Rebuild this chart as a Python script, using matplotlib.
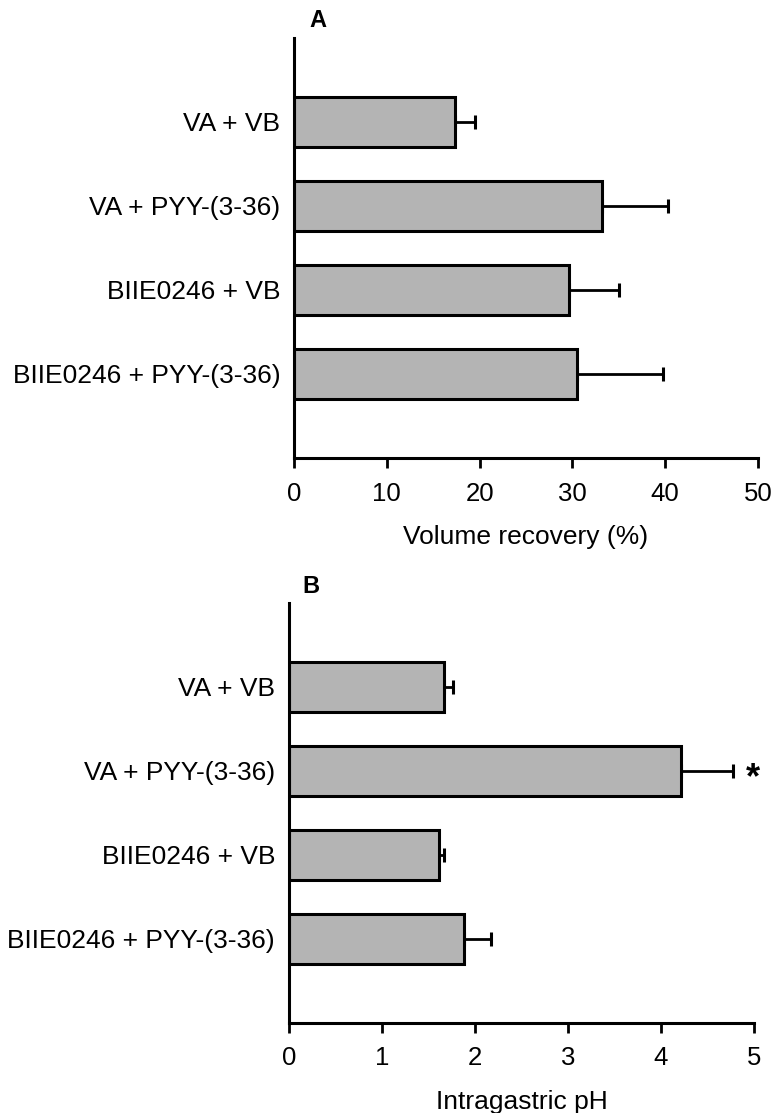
import matplotlib
matplotlib.use("Agg")
import matplotlib.pyplot as plt
import numpy as np

plt.rcParams['font.family'] = ['Liberation Sans', 'DejaVu Sans']

categories = ["VA + VB", "VA + PYY-(3-36)", "BIIE0246 + VB", "BIIE0246 + PYY-(3-36)"]
volume_mean = [17.3, 33.2, 29.6, 30.5]
volume_sem = [2.2, 7.1, 5.4, 9.3]
ph_mean = [1.67, 4.22, 1.61, 1.88]
ph_sem = [0.09, 0.55, 0.06, 0.29]
volume_ticks = [0, 10, 20, 30, 40, 50]
ph_ticks = [0, 1, 2, 3, 4, 5]

fig = plt.figure(figsize=(7.76, 11.13), dpi=100)
axA = fig.add_axes([0.3789, 0.5885, 0.5979, 0.3774])
axB = fig.add_axes([0.3724, 0.0811, 0.5992, 0.3771])

def draw(ax, means, sems, ticks, xlabel, letter, letter_dx, star=None):
    y = np.arange(1, len(categories) + 1)
    ax.barh(y, means, height=0.59, color='#b4b4b4', edgecolor='black', linewidth=2.2, zorder=2)
    ax.errorbar(means, y, xerr=[np.zeros(len(sems)), sems], fmt='none', ecolor='black',
                elinewidth=2.0, capsize=5, capthick=2.2, zorder=1)
    ax.set_ylim(5, 0)
    ax.set_xlim(ticks[0], ticks[-1])
    ax.set_xticks(ticks)
    ax.set_yticks(y)
    ax.set_yticklabels(categories, fontsize=19)
    ax.tick_params(axis='y', length=0, pad=10)
    ax.tick_params(axis='x', length=7, width=2, labelsize=18.5, pad=10)
    for s in ['top', 'right']:
        ax.spines[s].set_visible(False)
    for s in ['left', 'bottom']:
        ax.spines[s].set_linewidth(2.2)
    ax.set_xlabel(xlabel, fontsize=19, labelpad=14)
    ax.text(letter_dx, 1.013, letter, transform=ax.transAxes, fontsize=17, fontweight='bold',
            ha='left', va='bottom')
    if star is not None:
        i = star
        ax.text(means[i] + sems[i] + 0.22, y[i] + 0.09, '*', fontsize=26, fontweight='bold',
                ha='center', va='center')

draw(axA, volume_mean, volume_sem, volume_ticks, 'Volume recovery (%)', 'A', 0.033)
draw(axB, ph_mean, ph_sem, ph_ticks, 'Intragastric pH', 'B', 0.028, star=1)

fig.savefig('out.png', dpi=100)
